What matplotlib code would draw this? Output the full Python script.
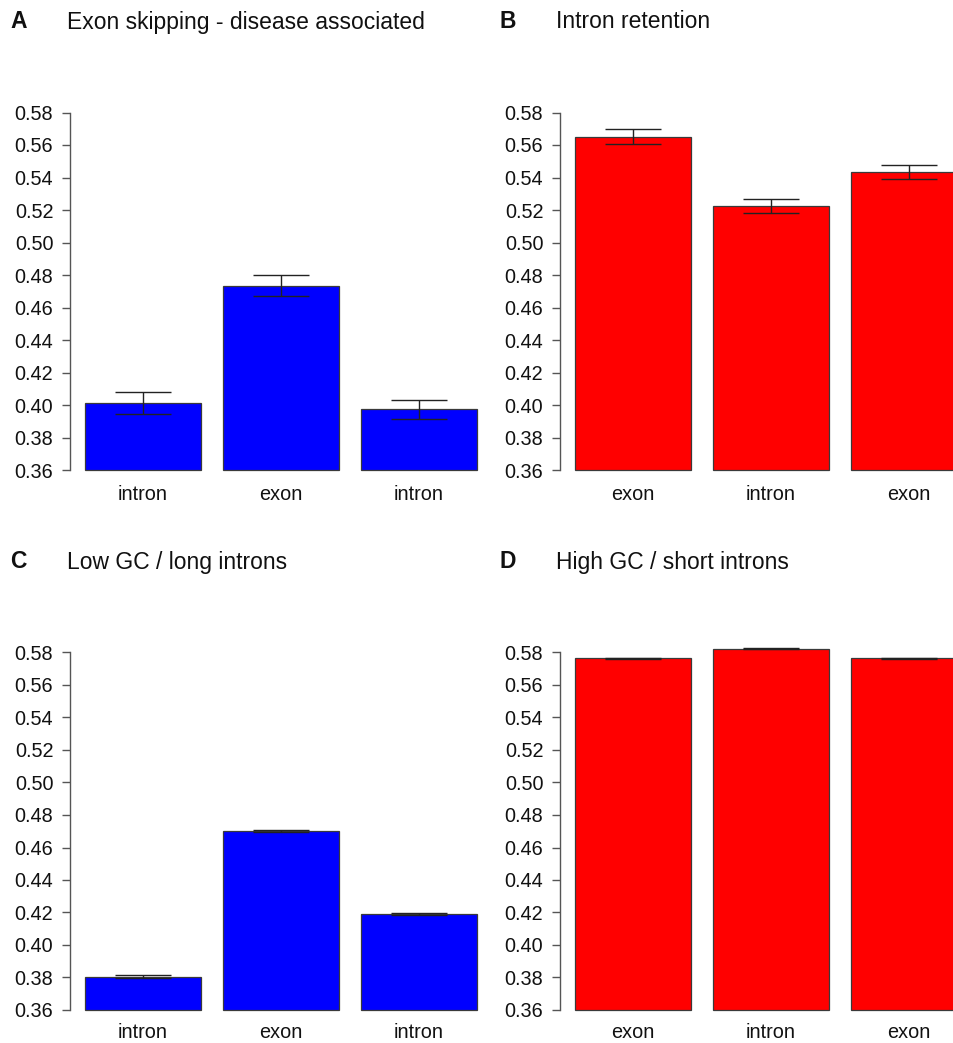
import matplotlib.pyplot as plt

plt.rcParams['font.family'] = ['Liberation Sans', 'DejaVu Sans']

# panel data: category labels, mean values and error half-widths
labels_ab = ["intron", "exon", "intron"]
labels_ret = ["exon", "intron", "exon"]

skip_vals = [0.4010, 0.4735, 0.3973]
skip_err = [0.0067, 0.0066, 0.0060]

ret_vals = [0.5652, 0.5222, 0.5433]
ret_err = [0.0044, 0.0043, 0.0043]

lowgc_vals = [0.3806, 0.4703, 0.4189]
lowgc_err = [0.0007, 0.0005, 0.0007]

highgc_vals = [0.5766, 0.5822, 0.5766]
highgc_err = [0.0003, 0.0003, 0.0003]

panels = [
    ("A", "Exon skipping - disease associated", labels_ab, skip_vals, skip_err, "#0000FF"),
    ("B", "Intron retention", labels_ret, ret_vals, ret_err, "#FF0000"),
    ("C", "Low GC / long introns", labels_ab, lowgc_vals, lowgc_err, "#0000FF"),
    ("D", "High GC / short introns", labels_ret, highgc_vals, highgc_err, "#FF0000"),
]

W, H = 954, 1043
fig = plt.figure(figsize=(W / 100, H / 100), dpi=100)

# pixel anchors for each panel: left axis line x, bottom y (from top), title y, label pad
anchors = [(70, 470, 22, 11), (560, 470, 22, 11), (70, 1010, 562, 9), (560, 1010, 562, 9)]
letter_x = [10, 500, 10, 500]
title_x = [67, 556, 67, 556]
ticks = [0.36 + 0.02 * i for i in range(12)]

for (letter, title, labels, vals, errs, col), (ax_x, ax_b, ty, xpad), lx, tx in zip(
        panels, anchors, letter_x, title_x):
    ax = fig.add_axes([ax_x / W, (H - ax_b) / H, 407 / W, 357.5 / H])
    xs = range(len(vals))
    ax.bar(xs, [v - 0.36 for v in vals], bottom=0.36, width=0.84, color=col,
           edgecolor="#3a3a3a", linewidth=0.9, clip_on=False, zorder=2)
    ax.errorbar(xs, vals, yerr=errs, fmt="none", ecolor="#222222",
                elinewidth=1.0, capsize=20.5, capthick=1.0, clip_on=False, zorder=3)
    ax.set_xlim(-0.53, 2.42)
    ax.set_ylim(0.36, 0.58)
    ax.set_yticks(ticks)
    ax.set_yticklabels([f"{t:.2f}" for t in ticks])
    ax.set_xticks(list(xs))
    ax.set_xticklabels(labels)
    for s in ("top", "right", "bottom"):
        ax.spines[s].set_visible(False)
    ax.spines["left"].set_bounds(0.36, 0.58)
    ax.spines["left"].set_color("#555555")
    ax.spines["left"].set_linewidth(1.0)
    ax.tick_params(axis="y", length=6, width=1.0, color="#555555", pad=6,
                   labelsize=14.3, labelcolor="#111111")
    ax.tick_params(axis="x", length=0, pad=xpad, labelsize=14.3, labelcolor="#111111")
    ax.patch.set_visible(False)

    fig.text(lx / W, 1 - ty / H, letter, fontsize=16.5, fontweight="bold",
             va="center", ha="left", color="#111111")
    fig.text(tx / W, 1 - ty / H, title, fontsize=16.5, va="center", ha="left",
             color="#111111")

fig.savefig("out.png", dpi=100, facecolor="white")
